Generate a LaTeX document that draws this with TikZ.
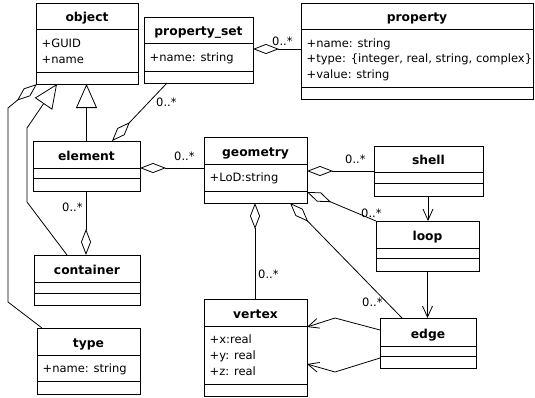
\documentclass[tikz,border=0pt]{standalone}
\usepackage{fontspec}
\setmainfont{DejaVu Sans}
\usetikzlibrary{arrows.meta}
\tikzset{
 clsbox/.style={draw, line width=0.9pt, inner sep=0pt, outer sep=0pt},
 clsline/.style={line width=0.9pt},
 clstitle/.style={anchor=base, font=\fontsize{12.3}{14}\selectfont\bfseries, inner sep=0pt},
 attr/.style={anchor=base west, font=\fontsize{11.5}{14}\selectfont, inner sep=0pt},
 mult/.style={anchor=base west, font=\fontsize{11.5}{14}\selectfont, inner sep=0pt},
 conn/.style={line width=0.8pt},
 agg/.style={conn, -{Diamond[open,length=26pt,width=10pt]}},
 gen/.style={conn, -{Triangle[open,length=24pt,width=21pt]}},
 nav/.style={conn, -{Straight Barb[length=11pt,width=10pt]}},
}
% name, x1, y1, x2, y2, sep1, sep2, title
\newcommand\umlclass[8]{%
  \node[clsbox, anchor=north west, minimum width={(#4-#2)*1pt}, minimum height={(#5-#3)*1pt}] (#1) at (#2,#3) {};
  \draw[clsline] (#2,#6) -- (#4,#6) (#2,#7) -- (#4,#7);
  \node[clstitle] (#1t) at ({(#2+#4)/2},{#6-7.5}) {#8};
}
\begin{document}
\begin{tikzpicture}[x=1pt,y=-1pt]
\useasboundingbox (0,0) rectangle (535,397);
% classes
\umlclass{object}{36}{3}{138}{84}{29}{72}{object}
\node[attr] (objA1) at (41.5,47) {+GUID};
\node[attr] (objA2) at (41.5,63) {+name};

\umlclass{propset}{144}{17}{253}{83}{43}{71}{property\_set}
\node[attr] (psA1) at (149.5,61) {+name: string};

\umlclass{property}{301}{3}{533}{99}{29}{87}{property}
\node[attr] (prA1) at (306.5,47) {+name: string};
\node[attr] (prA2) at (306.5,62.5) {+type: \{integer, real, string, complex\}};
\node[attr] (prA3) at (306.5,78) {+value: string};

\umlclass{element}{33}{141}{140}{191}{168}{178}{element}

\umlclass{geometry}{204}{137}{307}{203}{164}{191}{geometry}
\node[attr] (geA1) at (209.5,181.5) {+LoD:string};

\umlclass{shell}{374}{146}{483}{196}{172}{183}{shell}
\umlclass{loop}{376}{221}{479}{271}{248}{258}{loop}
\umlclass{edge}{380}{318}{476}{368}{346}{356}{edge}

\umlclass{vertex}{204}{299}{307}{396}{326}{384}{vertex}
\node[attr] (veA1) at (209.5,343.5) {+x:real};
\node[attr] (veA2) at (209.5,359.5) {+y: real};
\node[attr] (veA3) at (209.5,375) {+z: real};

\umlclass{container}{34}{255}{140}{305}{282}{293}{container}

\umlclass{type}{37}{328}{140}{394}{355}{381}{type}
\node[attr] (tyA1) at (42.5,372.5) {+name: string};

% generalizations
\draw[gen] (element.north) -- (element.north |- object.south);
\draw[gen] ([xshift=33pt]container.north west) -- (27,202) -- (27,128) -- ([xshift=21pt]object.south west);

% aggregations
\draw[agg] ([xshift=5pt]type.north west) -- (8,302) -- (8,108) -- ([xshift=1pt]object.south west);
\draw[agg] ([xshift=23pt]propset.south west) -- ([xshift=79pt]element.north west);
\coordinate (p1) at ([yshift=-46pt]property.north west);
\draw[agg] (p1) -- (p1 -| propset.east);
\coordinate (g1) at ([yshift=-31pt]geometry.north west);
\draw[agg] (g1) -- (g1 -| element.east);
\draw[agg] (shell.west) -- (shell.west -| geometry.east);
\draw[agg] (loop.north west) -- ([yshift=-55pt]geometry.north east);
\draw[agg] ([xshift=22pt]edge.north west) -- ([xshift=-17pt]geometry.south east);
\coordinate (v1) at ([xshift=51pt]vertex.north west);
\draw[agg] (v1) -- (v1 |- geometry.south);
\coordinate (e1) at ([xshift=53pt]element.south west);
\draw[agg] (e1) -- (e1 |- container.north);
\draw[conn] (e1) -- (e1 |- element.south);

% navigable associations
\coordinate (s1) at ([xshift=54pt]shell.south west);
\draw[nav] (s1) -- (s1 |- loop.north);
\draw[nav] (loop.south) -- (loop.south |- edge.north);
\draw[nav] ([yshift=-12pt]edge.north west) -- (335,318) -- ([yshift=-28pt]vertex.north east);
\draw[nav] ([yshift=-40pt]edge.north west) -- (335,372) -- ([yshift=-65pt]vertex.north east);

% multiplicities
\node[mult] (m1) at (272,45) {0..*};
\node[mult] (m2) at (156,106) {0..*};
\node[mult] (m3) at (174,160) {0..*};
\node[mult] (m4) at (345,163) {0..*};
\node[mult] (m5) at (361,217) {0..*};
\node[mult] (m6) at (362,306) {0..*};
\node[mult] (m7) at (258,278) {0..*};
\node[mult] (m8) at (62,211) {0..*};
\end{tikzpicture}
\end{document}
